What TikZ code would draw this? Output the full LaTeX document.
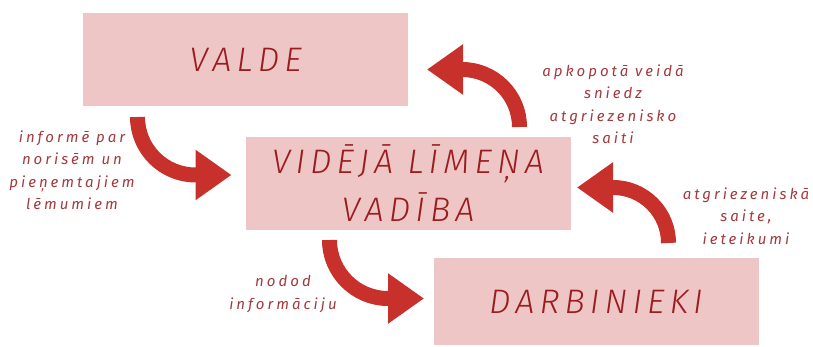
\documentclass[tikz,border=0pt]{standalone}
\usepackage{fontspec}
\setmainfont{Fira Sans}
\newfontfamily\boxfont[LetterSpace=15]{Fira Sans Light}
\newfontfamily\lblfont[LetterSpace=20]{Fira Sans}
\usetikzlibrary{arrows.meta}
\definecolor{boxpink}{HTML}{EFC6C6}
\definecolor{boxred}{HTML}{9B1C1F}
\definecolor{arrred}{HTML}{C8302C}
\definecolor{lblred}{HTML}{A3393D}
\begin{document}
\begin{tikzpicture}[x=1pt,y=1pt,
    blok/.style={fill=boxpink,minimum width=325pt,minimum height=93pt,
      text=boxred,align=center,font=\boxfont\itshape\fontsize{34}{48}\selectfont},
    bulta/.style={draw=arrred,line width=15pt,-{Triangle[length=36pt,width=48pt]}},
    piezime/.style={text=lblred,align=center,font=\lblfont\itshape\fontsize{15}{22.5}\selectfont}]
    \useasboundingbox (0,0) rectangle (813,347);

    \node[blok] (valde) at (245.5,287) {VALDE};
    \node[blok] (vadiba) at (408,163.5) {VIDĒJĀ LĪMEŅA\\VADĪBA};
    \node[blok,minimum height=87pt] (darb) at (596,45.5) {DARBINIEKI};

    \coordinate (b1) at (137.5,230);
    \coordinate (b2) at (519.5,220);
    \coordinate (b3) at (668.5,104);
    \coordinate (b4) at (329.5,107);

    \draw[bulta] (b1) arc[start angle=180,end angle=270,radius=58] -- ++(36,0);
    \draw[bulta] (b2) arc[start angle=0,end angle=90,radius=57.5] -- ++(-35,0);
    \draw[bulta] (b3) arc[start angle=0,end angle=90,radius=55.5] -- ++(-36,0);
    \draw[bulta] (b4) arc[start angle=180,end angle=270,radius=58.5] -- ++(36,0);

    \node[piezime] (p1) at (72,177) {informē par\\norisēm un\\pieņemtajiem\\lēmumiem};
    \node[piezime] (p2) at (613,243) {apkopotā veidā\\sniedz\\atgriezenisko\\saiti};
    \node[piezime] (p3) at (746,131) {atgriezeniskā\\saite,\\ieteikumi};
    \node[piezime] (p4) at (283,53) {nodod\\informāciju};
  \end{tikzpicture}
\end{document}
